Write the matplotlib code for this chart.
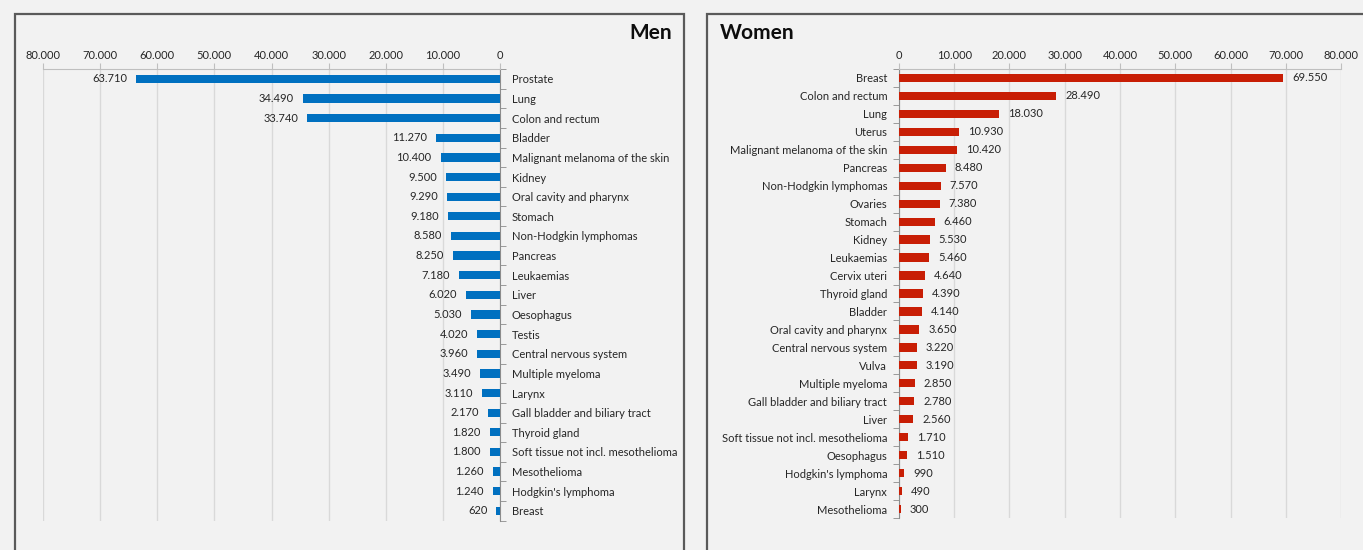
import matplotlib
matplotlib.use("Agg")
import matplotlib.pyplot as plt
from matplotlib.patches import Rectangle
from matplotlib.ticker import FixedLocator, FuncFormatter

men_categories = ["Prostate", "Lung", "Colon and rectum", "Bladder", "Malignant melanoma of the skin",
                  "Kidney", "Oral cavity and pharynx", "Stomach", "Non-Hodgkin lymphomas", "Pancreas",
                  "Leukaemias", "Liver", "Oesophagus", "Testis", "Central nervous system",
                  "Multiple myeloma", "Larynx", "Gall bladder and biliary tract", "Thyroid gland",
                  "Soft tissue not incl. mesothelioma", "Mesothelioma", "Hodgkin's lymphoma", "Breast"]
men_values = [63710, 34490, 33740, 11270, 10400, 9500, 9290, 9180, 8580, 8250, 7180, 6020, 5030,
              4020, 3960, 3490, 3110, 2170, 1820, 1800, 1260, 1240, 620]

women_categories = ["Breast", "Colon and rectum", "Lung", "Uterus", "Malignant melanoma of the skin",
                    "Pancreas", "Non-Hodgkin lymphomas", "Ovaries", "Stomach", "Kidney", "Leukaemias",
                    "Cervix uteri", "Thyroid gland", "Bladder", "Oral cavity and pharynx",
                    "Central nervous system", "Vulva", "Multiple myeloma", "Gall bladder and biliary tract",
                    "Liver", "Soft tissue not incl. mesothelioma", "Oesophagus", "Hodgkin's lymphoma",
                    "Larynx", "Mesothelioma"]
women_values = [69550, 28490, 18030, 10930, 10420, 8480, 7570, 7380, 6460, 5530, 5460, 4640, 4390,
                4140, 3650, 3220, 3190, 2850, 2780, 2560, 1710, 1510, 990, 490, 300]

x_ticks = [0, 10000, 20000, 30000, 40000, 50000, 60000, 70000, 80000]

FONT = "Lato"
plt.rcParams["font.family"] = [FONT, "DejaVu Sans"]
BG = "#f2f2f2"
TXT = "#262626"

W, H = 1363, 550
fig = plt.figure(figsize=(W / 100, H / 100), dpi=100, facecolor=BG)

def fx(px):
    return px / W

def fy(py):
    return 1 - py / H

# panel borders
for (x0, x1) in [(15, 684), (707, 1375)]:
    fig.patches.append(Rectangle((fx(x0), fy(570)), fx(x1) - fx(x0), fy(14) - fy(570),
                                 transform=fig.transFigure, fill=False, edgecolor="#5a5a5a",
                                 linewidth=1.6, zorder=0))

def dotfmt(v):
    return f"{int(v):,}".replace(",", ".")

def setup(ax, cats, vals, color, men):
    n = len(cats)
    ax.set_facecolor(BG)
    ys = list(range(n))
    ax.barh(ys, vals, height=0.42 if men else 0.46, color=color, zorder=3)
    ax.set_ylim(n - 0.5, -0.5)
    ax.set_xlim((80000, 0) if men else (0, 80000))
    ax.xaxis.set_major_locator(FixedLocator(x_ticks))
    ax.xaxis.set_major_formatter(FuncFormatter(lambda v, p: dotfmt(v)))
    ax.xaxis.tick_top()
    ax.tick_params(axis="x", which="major", length=4, color="#bfbfbf", labelsize=8, labelcolor=TXT, pad=1.5)
    ax.grid(axis="x", color="#d9d9d9", linewidth=1, zorder=0)
    for s in ["bottom", "left", "right"]:
        ax.spines[s].set_visible(False)
    ax.spines["top"].set_color("#bfbfbf")
    ax.set_yticks(ys)
    ax.set_yticklabels(cats)
    ax.yaxis.set_minor_locator(FixedLocator([i - 0.5 for i in range(n + 1)]))
    ax.tick_params(axis="y", which="major", length=0, labelsize=8, labelcolor=TXT, pad=8.5)
    ax.tick_params(axis="y", which="minor", length=4, color="#8c8c8c")
    if men:
        ax.yaxis.tick_right()
        ax.spines["right"].set_visible(True)
        ax.spines["right"].set_color("#8c8c8c")
    else:
        ax.spines["left"].set_visible(True)
        ax.spines["left"].set_color("#8c8c8c")
    for y, v in zip(ys, vals):
        ax.annotate(dotfmt(v), (v, y), xytext=(-6.5 if men else 6.5, 0), textcoords="offset points",
                    ha="right" if men else "left", va="center", fontsize=8, color=TXT)

ax1 = fig.add_axes([fx(43), fy(520.7), fx(500) - fx(43), fy(69) - fy(520.7)])
setup(ax1, men_categories, men_values, "#0070c0", True)

ax2 = fig.add_axes([fx(899), fy(518), fx(1341) - fx(899), fy(69) - fy(518)])
setup(ax2, women_categories, women_values, "#c81e05", False)

fig.text(fx(672), fy(33), "Men", ha="right", va="center", fontsize=15, fontweight="bold", color="#0d0d0d")
fig.text(fx(720), fy(33), "Women", ha="left", va="center", fontsize=15, fontweight="bold", color="#0d0d0d")

fig.savefig("out.png", dpi=100, facecolor=BG)
